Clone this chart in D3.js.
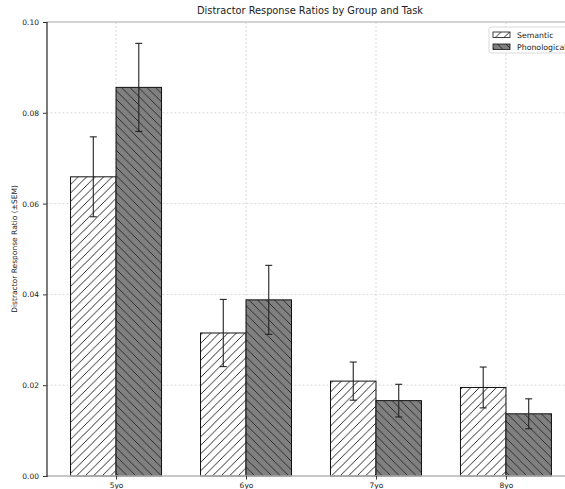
<!DOCTYPE html>
<html>
<head>
<meta charset="utf-8">
<script src="https://cdn.jsdelivr.net/npm/d3@7"></script>
<style>
  body { margin: 0; background: #fff; }
  text { font-family: "DejaVu Sans", sans-serif; fill: #222; }
</style>
</head>
<body>
<script>
var groups = ["5yo", "6yo", "7yo", "8yo"];
var tasks = ["Semantic", "Phonological"];
var semantic = [0.0659, 0.0315, 0.0209, 0.0195];
var semanticSem = [0.0088, 0.0074, 0.0042, 0.0045];
var phonological = [0.0856, 0.0388, 0.0166, 0.0137];
var phonologicalSem = [0.0097, 0.0076, 0.0036, 0.0033];
var yTicks = [0.00, 0.02, 0.04, 0.06, 0.08, 0.10];

var width = 565, height = 489;
var barW = 0.35;

var svg = d3.select("body").append("svg")
    .attr("width", width)
    .attr("height", height);

// hatch patterns
var defs = svg.append("defs");
var p1 = defs.append("pattern")
    .attr("id", "hatchSem")
    .attr("patternUnits", "userSpaceOnUse")
    .attr("width", 8.5).attr("height", 8.5);
p1.append("rect").attr("width", 8.5).attr("height", 8.5).attr("fill", "#fff");
p1.append("path").attr("d", "M-2,10.5 L10.5,-2 M-2,2 L2,-2 M6.5,10.5 L10.5,6.5")
    .attr("stroke", "#111").attr("stroke-width", 0.9);

var p2 = defs.append("pattern")
    .attr("id", "hatchPho")
    .attr("patternUnits", "userSpaceOnUse")
    .attr("width", 8.5).attr("height", 8.5);
p2.append("rect").attr("width", 8.5).attr("height", 8.5).attr("fill", "#808080");
p2.append("path").attr("d", "M-2,-2 L10.5,10.5 M6.5,-2 L10.5,2 M-2,6.5 L2,10.5")
    .attr("stroke", "#222").attr("stroke-width", 0.9);

var x = d3.scaleLinear().domain([-0.535, 3.535]).range([46.5, 575.5]);
var y = d3.scaleLinear().domain([0, 0.1]).range([476, 22]);

// grid
svg.append("g").selectAll("line.hg")
    .data(yTicks.slice(1, -1))
    .enter().append("line")
    .attr("x1", x.range()[0]).attr("x2", width)
    .attr("y1", function(d) { return y(d); })
    .attr("y2", function(d) { return y(d); })
    .attr("stroke", "#cfcfcf").attr("stroke-dasharray", "2,2").attr("stroke-width", 0.8);

svg.append("g").selectAll("line.vg")
    .data(groups)
    .enter().append("line")
    .attr("x1", function(d, i) { return x(i); })
    .attr("x2", function(d, i) { return x(i); })
    .attr("y1", y(0.1)).attr("y2", y(0))
    .attr("stroke", "#cfcfcf").attr("stroke-dasharray", "2,2").attr("stroke-width", 0.8);

// bars
var series = [
  { name: tasks[0], vals: semantic, err: semanticSem, off: -barW / 2, fill: "url(#hatchSem)" },
  { name: tasks[1], vals: phonological, err: phonologicalSem, off: barW / 2, fill: "url(#hatchPho)" }
];

series.forEach(function(s) {
  svg.append("g").selectAll("rect")
      .data(s.vals)
      .enter().append("rect")
      .attr("x", function(d, i) { return x(i + s.off - barW / 2); })
      .attr("width", x(barW) - x(0))
      .attr("y", function(d) { return y(d); })
      .attr("height", function(d) { return y(0) - y(d); })
      .attr("fill", s.fill)
      .attr("stroke", "#111")
      .attr("stroke-width", 1);
});

// error bars
series.forEach(function(s) {
  var g = svg.append("g");
  s.vals.forEach(function(v, i) {
    var cx = x(i + s.off);
    g.append("line")
        .attr("x1", cx).attr("x2", cx)
        .attr("y1", y(v - s.err[i])).attr("y2", y(v + s.err[i]))
        .attr("stroke", "#222").attr("stroke-width", 1.1);
    [v - s.err[i], v + s.err[i]].forEach(function(e) {
      g.append("line")
          .attr("x1", cx - 3.5).attr("x2", cx + 3.5)
          .attr("y1", y(e)).attr("y2", y(e))
          .attr("stroke", "#222").attr("stroke-width", 1.1);
    });
  });
});

// spines
svg.append("line")
    .attr("x1", x.range()[0]).attr("x2", width)
    .attr("y1", y(0.1)).attr("y2", y(0.1))
    .attr("stroke", "#c4c4c4").attr("stroke-width", 1.6);
svg.append("line")
    .attr("x1", x.range()[0]).attr("x2", width)
    .attr("y1", y(0)).attr("y2", y(0))
    .attr("stroke", "#b4b4b4").attr("stroke-width", 1.6);

// axes
var yAxis = d3.axisLeft(y)
    .tickValues(yTicks)
    .tickFormat(d3.format(".2f"))
    .tickSize(3.5)
    .tickPadding(4);
var yg = svg.append("g")
    .attr("transform", "translate(" + x.range()[0] + ",0)")
    .call(yAxis);
yg.select(".domain").attr("stroke", "#111").attr("stroke-width", 1.1);
yg.selectAll("text").style("font-size", "7.5px").attr("fill", "#333");
yg.selectAll(".tick line").attr("stroke", "#333");

var xAxis = d3.axisBottom(x)
    .tickValues([0, 1, 2, 3])
    .tickFormat(function(d) { return groups[d]; })
    .tickSize(3.5)
    .tickPadding(3);
var xg = svg.append("g")
    .attr("transform", "translate(0," + y(0) + ")")
    .call(xAxis);
xg.select(".domain").remove();
xg.selectAll("text").style("font-size", "7.5px").attr("fill", "#333");
xg.selectAll(".tick line").attr("stroke", "#333");

// title and labels
svg.append("text")
    .attr("x", 310).attr("y", 14)
    .attr("text-anchor", "middle")
    .style("font-size", "9.8px")
    .text("Distractor Response Ratios by Group and Task");

svg.append("text")
    .attr("transform", "translate(17," + ((y(0) + y(0.1)) / 2) + ") rotate(-90)")
    .attr("text-anchor", "middle")
    .style("font-size", "7.5px")
    .text("Distractor Response Ratio (\u00b1SEM)");

// legend
var lg = svg.append("g").attr("transform", "translate(489,27)");
lg.append("rect")
    .attr("width", 90).attr("height", 26).attr("rx", 2)
    .attr("fill", "#fff").attr("fill-opacity", 0.85)
    .attr("stroke", "#d0d0d0").attr("stroke-width", 0.8);
series.forEach(function(s, i) {
  lg.append("rect")
      .attr("x", 4).attr("y", 5 + i * 12)
      .attr("width", 17).attr("height", 5.5)
      .attr("fill", s.fill).attr("stroke", "#111").attr("stroke-width", 0.8);
  lg.append("text")
      .attr("x", 28).attr("y", 10.5 + i * 12)
      .style("font-size", "7.8px")
      .text(s.name);
});
</script>
</body>
</html>
